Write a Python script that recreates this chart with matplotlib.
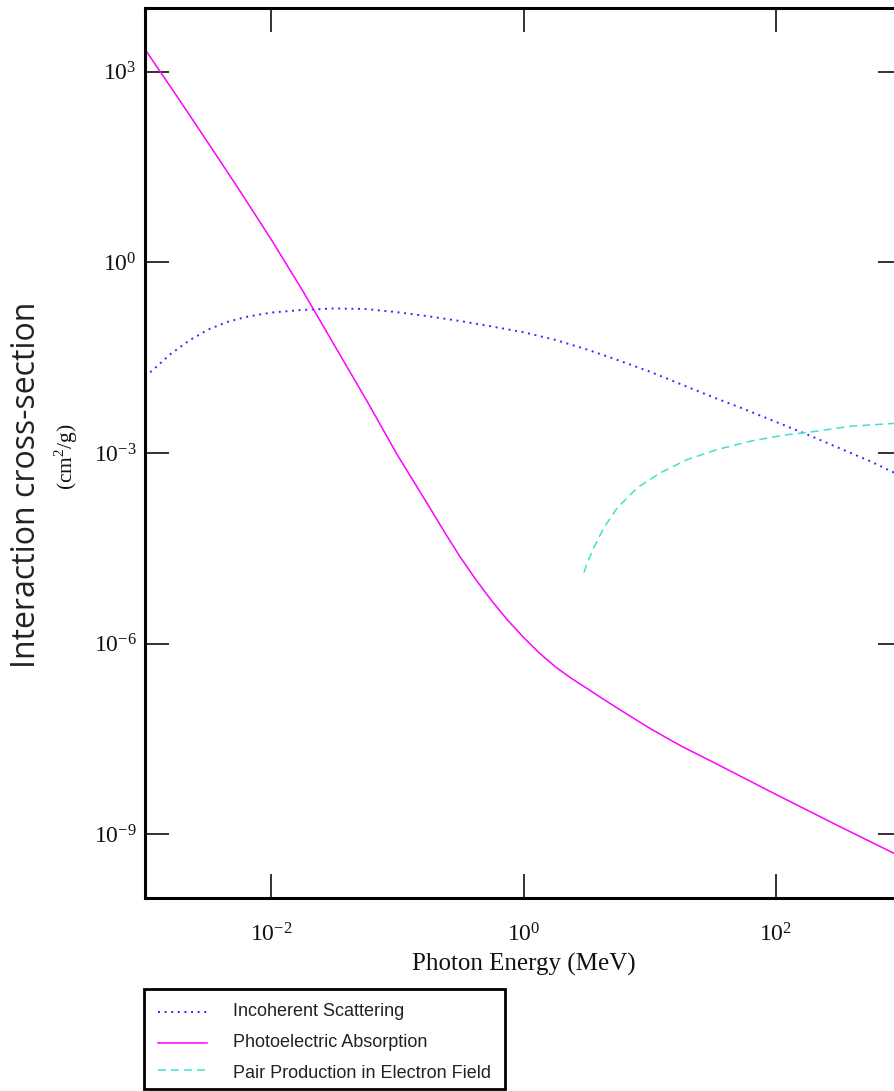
import matplotlib
matplotlib.use("Agg")
import matplotlib.pyplot as plt
from matplotlib.lines import Line2D
from matplotlib.patches import Rectangle

# Photon energy (MeV) and interaction cross-section (cm^2/g) per process
incoherent_energy = [0.0011, 0.00158, 0.00224, 0.00316, 0.00447, 0.00631, 0.01,
                     0.0178, 0.0316, 0.0562, 0.1, 0.178, 0.316, 0.562, 1.0, 1.78,
                     3.16, 5.62, 10, 17.8, 31.6, 56.2, 100, 178, 316, 562, 1000]
incoherent_sigma = [0.0186, 0.0355, 0.0589, 0.0871, 0.115, 0.138, 0.162,
                    0.178, 0.188, 0.184, 0.164, 0.141, 0.119, 0.0977, 0.0794, 0.0603,
                    0.0427, 0.0288, 0.0191, 0.0120, 0.00759, 0.0049, 0.00309, 0.00195,
                    0.00120, 7.41e-4, 4.27e-4]

photo_energy = [0.001, 0.00178, 0.00316, 0.00562, 0.01, 0.0178, 0.0316, 0.0562,
                0.1, 0.178, 0.237, 0.316, 0.422, 0.562, 0.750, 1.0, 1.33, 1.78,
                2.37, 3.16, 4.22, 5.62, 10, 17.8, 31.6, 100, 316, 1000]
photo_sigma = [2239, 417, 75.9, 13.5, 2.29, 0.355, 0.0501, 0.00708,
               9.33e-4, 1.45e-4, 5.66e-5, 2.29e-5, 1.0e-5, 4.68e-6, 2.34e-6, 1.26e-6,
               7.18e-7, 4.37e-7, 2.89e-7, 2.0e-7, 1.37e-7, 9.55e-8,
               4.68e-8, 2.45e-8, 1.38e-8, 4.27e-9, 1.35e-9, 4.37e-10]

pair_energy = [3.01, 3.21, 3.61, 4.34, 5.55, 7.98, 12.2, 19.9, 34.4, 63.4, 116,
               214, 394, 818, 1000]
pair_sigma = [1.32e-5, 1.89e-5, 3.25e-5, 6.70e-5, 1.38e-4, 2.84e-4, 4.89e-4,
              7.91e-4, 1.135e-3, 1.54e-3, 1.91e-3, 2.21e-3, 2.64e-3, 2.90e-3, 2.95e-3]

series_labels = ["Incoherent Scattering", "Photoelectric Absorption",
                 "Pair Production in Electron Field"]

x_ticks = [1e-2, 1e0, 1e2]
x_tick_labels = [r"$\mathregular{10^{-2}}$", r"$\mathregular{10^{0}}$",
                 r"$\mathregular{10^{2}}$"]
y_ticks = [1e3, 1e0, 1e-3, 1e-6, 1e-9]
y_tick_labels = [r"$\mathregular{10^{3}}$", r"$\mathregular{10^{0}}$",
                 r"$\mathregular{10^{-3}}$", r"$\mathregular{10^{-6}}$",
                 r"$\mathregular{10^{-9}}$"]

W, H = 894, 1091


def fx(px):
    return px / W


def fy(py):
    return 1 - py / H


plt.rcParams["mathtext.fontset"] = "custom"
plt.rcParams["mathtext.rm"] = "Liberation Serif"

fig = plt.figure(figsize=(W / 100, H / 100), dpi=100)
ax = fig.add_axes([fx(145), fy(898), fx(902) - fx(145), fy(8) - fy(898)])

styles = [
    dict(color="#2b2bff", lw=1.4, linestyle=(0, (1, 2.4))),
    dict(color="#ff00ff", lw=1.1, linestyle="-"),
    dict(color="#40e0d0", lw=1.1, linestyle=(0, (5.2, 3.3))),
]
data = [(incoherent_energy, incoherent_sigma),
        (photo_energy, photo_sigma),
        (pair_energy, pair_sigma)]

for (e, s), st, lab in zip(data, styles, series_labels):
    ax.plot(e, s, label=lab, **st)

ax.set_xscale("log")
ax.set_yscale("log")
ax.set_xlim(1e-3, 1e3)
ax.set_ylim(1e-10, 1e4)

ax.set_xticks(x_ticks)
ax.set_xticklabels(x_tick_labels)
ax.set_yticks(y_ticks)
ax.set_yticklabels(y_tick_labels)
ax.minorticks_off()

ax.tick_params(which="major", direction="in", length=17, width=1.4,
               color="#333333", top=True, right=True,
               labelsize=17, labelcolor="#111111")
ax.tick_params(axis="x", pad=18.5)
ax.tick_params(axis="y", pad=6)
for lbl in ax.get_xticklabels() + ax.get_yticklabels():
    lbl.set_fontfamily("Liberation Serif")

for sp in ax.spines.values():
    sp.set_linewidth(2.2)
    sp.set_color("black")

# axis titles
fig.text(fx(524), fy(964), "Photon Energy (MeV)", family="Liberation Serif",
         fontsize=18, ha="center", va="center", color="#111111")
fig.text(fx(27), fy(485), "Interaction cross-section", family="Open Sans",
         fontsize=23, rotation=90, ha="center", va="center", color="#222222")
fig.text(fx(66), fy(457), r"(cm$^{\mathregular{2}}$/g)", family="Liberation Serif",
         fontsize=15.5, rotation=90, ha="center", va="center", color="#111111")

# legend box below the plot
fig.add_artist(Rectangle((fx(144), fy(1089)), fx(505) - fx(144), fy(989) - fy(1089),
                         transform=fig.transFigure, fill=False, edgecolor="black",
                         linewidth=2.0))
handle_y = [1011.7, 1042.7, 1069.5]
text_y = [1011.5, 1042.5, 1073.0]
for st, lab, hy, ty in zip(styles, series_labels, handle_y, text_y):
    fig.add_artist(Line2D([fx(158), fx(207)], [fy(hy), fy(hy)],
                          transform=fig.transFigure, **st))
    fig.text(fx(233), fy(ty), lab, family="Liberation Sans", fontsize=13,
             ha="left", va="center", color="#222222")

fig.savefig("out.png", dpi=100)
